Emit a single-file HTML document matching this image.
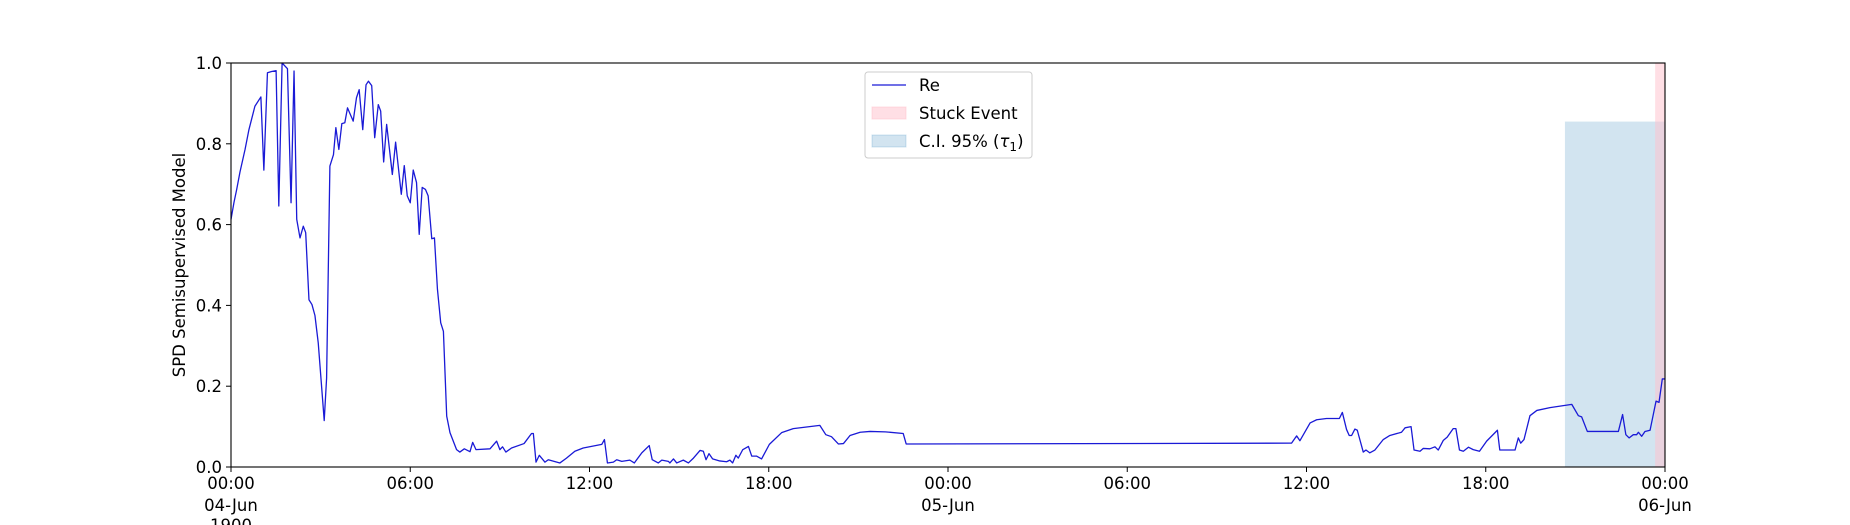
<!DOCTYPE html>
<html><head><meta charset="utf-8"><style>
html,body{margin:0;padding:0;background:#fff;}
svg{display:block;font-family:"DejaVu Sans","Liberation Sans",sans-serif;}
</style></head><body>
<svg id="chart" width="1850" height="525" viewBox="0 0 1850 525">
<g id="spans"></g>
<g id="series"></g>
<g id="axes"></g>
<g id="legend">
<rect x="865" y="72" width="167" height="86" rx="3" fill="#fff" fill-opacity="0.8" stroke="#ccc"/>
<line x1="872" y1="85" x2="906" y2="85" stroke="#1a1ad6" stroke-width="1.3"/>
<text x="919" y="91" font-size="16.5">Re</text>
<rect x="872" y="107" width="34" height="12" fill="#ffc0cb" fill-opacity="0.5" stroke="#ffc0cb" stroke-opacity="0.5"/>
<text x="919" y="119" font-size="16.5">Stuck Event</text>
<rect x="872" y="135" width="34" height="12" fill="#1f77b4" fill-opacity="0.2" stroke="#1f77b4" stroke-opacity="0.2"/>
<text x="919" y="147" font-size="16.5">C.I. 95% (<tspan font-style="italic">τ</tspan><tspan font-size="12" dy="4">1</tspan><tspan dy="-4">)</tspan></text>
</g>
</svg>
<script>
const hours = [0,0.1,0.19,0.3,0.47,0.6,0.8,1.0,1.1,1.22,1.36,1.51,1.6,1.71,1.89,2.01,2.11,2.2,2.31,2.42,2.5,2.61,2.71,2.81,2.92,3.12,3.2,3.31,3.43,3.51,3.61,3.71,3.81,3.9,4.09,4.2,4.29,4.41,4.52,4.6,4.71,4.81,4.93,5.01,5.11,5.21,5.4,5.51,5.7,5.8,5.9,6.0,6.1,6.21,6.3,6.4,6.51,6.6,6.72,6.81,6.91,7.02,7.11,7.22,7.33,7.55,7.66,7.81,8.0,8.09,8.2,8.67,8.89,9.0,9.09,9.2,9.39,9.81,10.06,10.12,10.21,10.32,10.51,10.62,11.01,11.23,11.51,11.79,12.41,12.5,12.6,12.8,12.91,13.08,13.35,13.5,13.75,14.0,14.1,14.3,14.42,14.64,14.69,14.81,14.92,15.14,15.31,15.48,15.7,15.81,15.9,16.0,16.12,16.36,16.59,16.7,16.79,16.9,16.98,17.13,17.32,17.43,17.59,17.76,18.02,18.43,18.82,19.71,19.91,20.1,20.33,20.5,20.72,21.06,21.39,21.9,22.5,22.6,35.5,35.67,35.78,36.12,36.34,36.67,37.1,37.2,37.34,37.43,37.51,37.62,37.7,37.9,37.99,38.12,38.29,38.57,38.79,39.18,39.3,39.5,39.6,39.8,39.91,40.13,40.3,40.41,40.58,40.71,40.91,41.0,41.12,41.25,41.42,41.58,41.79,42.03,42.39,42.47,42.7,42.98,43.09,43.17,43.28,43.48,43.71,44.15,44.88,45.1,45.21,45.4,46.44,46.58,46.69,46.8,46.94,47.05,47.11,47.22,47.33,47.5,47.7,47.8,47.91,48.0];
const reValues = [0.613,0.655,0.687,0.73,0.786,0.835,0.893,0.916,0.735,0.976,0.979,0.981,0.646,1.0,0.986,0.654,0.98,0.613,0.567,0.596,0.58,0.414,0.402,0.375,0.307,0.115,0.22,0.745,0.773,0.84,0.786,0.85,0.852,0.889,0.856,0.914,0.934,0.835,0.946,0.955,0.944,0.815,0.897,0.881,0.755,0.848,0.724,0.804,0.675,0.746,0.671,0.654,0.735,0.704,0.576,0.692,0.687,0.671,0.565,0.567,0.44,0.357,0.336,0.126,0.085,0.043,0.037,0.045,0.038,0.061,0.043,0.045,0.064,0.043,0.05,0.037,0.047,0.058,0.083,0.083,0.012,0.029,0.012,0.018,0.01,0.022,0.039,0.047,0.056,0.068,0.01,0.012,0.018,0.014,0.017,0.01,0.035,0.053,0.018,0.01,0.017,0.014,0.01,0.02,0.01,0.017,0.01,0.022,0.041,0.039,0.018,0.033,0.02,0.015,0.013,0.017,0.01,0.029,0.022,0.043,0.051,0.027,0.027,0.02,0.056,0.085,0.095,0.103,0.08,0.075,0.057,0.058,0.078,0.086,0.088,0.087,0.083,0.057,0.059,0.077,0.065,0.109,0.117,0.12,0.12,0.135,0.093,0.078,0.078,0.094,0.091,0.037,0.042,0.035,0.042,0.068,0.078,0.086,0.097,0.1,0.042,0.039,0.046,0.045,0.05,0.042,0.066,0.074,0.095,0.095,0.042,0.039,0.049,0.043,0.039,0.064,0.091,0.042,0.042,0.042,0.072,0.059,0.068,0.127,0.14,0.147,0.155,0.127,0.124,0.088,0.088,0.13,0.08,0.072,0.08,0.08,0.086,0.076,0.088,0.091,0.163,0.16,0.218,0.218];
const ciSpan = [44.65, 48.0, 0.855];
const stuckSpan = [47.67, 48.0];
const yTicks = [0,0.2,0.4,0.6,0.8,1.0];
const yTickLabels = ["0.0","0.2","0.4","0.6","0.8","1.0"];
const xTicks = [0,6,12,18,24,30,36,42,48];
const xTickLabels = ["00:00","06:00","12:00","18:00","00:00","06:00","12:00","18:00","00:00"];
const xTickDates = ["04-Jun","","","","05-Jun","","","","06-Jun"];

const L=231,R=1665,T=63,B=467;
const NS="http://www.w3.org/2000/svg";
const xS=h=>L+(h/48)*(R-L);
const yS=v=>B-v*(B-T);
function mk(tag,attrs,parent){const e=document.createElementNS(NS,tag);for(const k in attrs)e.setAttribute(k,attrs[k]);parent.appendChild(e);return e;}
const spans=document.getElementById('spans'),series=document.getElementById('series'),axes=document.getElementById('axes');

let ci=mk('rect',{x:xS(ciSpan[0]),y:yS(ciSpan[2]),width:xS(ciSpan[1])-xS(ciSpan[0]),height:yS(0)-yS(ciSpan[2]),fill:'#1f77b4','fill-opacity':0.2},spans);


let st=mk('rect',{x:xS(stuckSpan[0]),y:T,width:xS(stuckSpan[1])-xS(stuckSpan[0]),height:B-T,fill:'#ffc0cb','fill-opacity':0.5},spans);



let d=hours.map((h,i)=>(i?'L':'M')+xS(h).toFixed(2)+' '+yS(reValues[i]).toFixed(2)).join(' ');
let ln=mk('path',{d:d,fill:'none',stroke:'#1a1ad6','stroke-width':1.3,'stroke-linejoin':'round'},series);



let fr=mk('rect',{x:L,y:T,width:R-L,height:B-T,fill:'none',stroke:'#000','stroke-width':1.1},axes);



yTicks.forEach((v,i)=>{
  let t=mk('line',{x1:L-5,x2:L,y1:yS(v),y2:yS(v),stroke:'#000'},axes);
  
  
  let tx=mk('text',{x:L-9,y:yS(v)+6,'font-size':16.5,'text-anchor':'end'},axes);
  tx.textContent=yTickLabels[i];
  
  
});
xTicks.forEach((h,i)=>{
  let t=mk('line',{x1:xS(h),x2:xS(h),y1:B,y2:B+5,stroke:'#000'},axes);
  
  
  let tx=mk('text',{x:xS(h),y:489,'font-size':16.5,'text-anchor':'middle'},axes);
  tx.textContent=xTickLabels[i];
  
  
  if(xTickDates[i]){
    let dt=mk('text',{x:xS(h),y:511,'font-size':16.5,'text-anchor':'middle'},axes);
    dt.textContent=xTickDates[i];
    
    
  }
});
let yr=mk('text',{x:xS(0),y:531,'font-size':16.5,'text-anchor':'middle'},axes);
yr.textContent='1900';


let yt=mk('text',{x:185,y:(T+B)/2,'font-size':16.5,'text-anchor':'middle',transform:'rotate(-90 185 '+((T+B)/2)+')'},axes);
yt.textContent='SPD Semisupervised Model';


</script>
</body></html>
